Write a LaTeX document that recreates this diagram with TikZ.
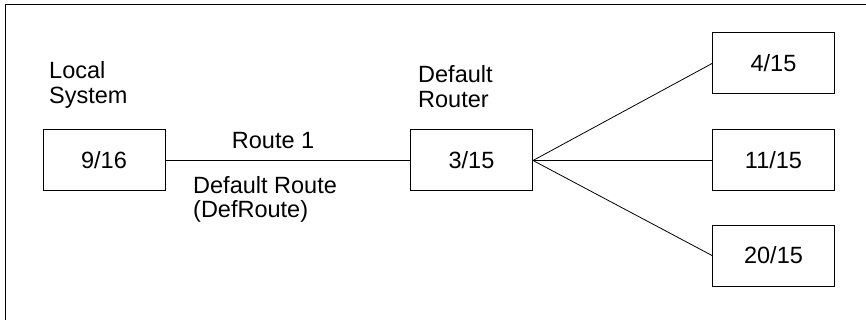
\documentclass[tikz,border=0pt]{standalone}
\usepackage{fontspec}
\setmainfont{Liberation Sans}
\usetikzlibrary{positioning}

\tikzset{
    hostbox/.style={draw, line width=1pt, minimum width=122pt, minimum height=61pt, inner sep=0pt},
    caption/.style={align=left, anchor=base west, inner sep=0pt},
    link/.style={line width=0.8pt}
}

\begin{document}
\begin{tikzpicture}[x=1pt, y=-1pt, font=\fontsize{23.5}{24.5}\selectfont]
    \useasboundingbox (0,0) rectangle (866,320);
    \draw[line width=1pt] (5,320) -- (5,5) -- (866,5);

    % hosts
    \node[hostbox] (local) at (104,160.5) {9/16};
    \node[hostbox] (router) at (471.5,160.5) {3/15};
    \node[hostbox] (h4) at (773.5,63.5) {4/15};
    \node[hostbox] (h11) at (773.5,160.5) {11/15};
    \node[hostbox] (h20) at (773.5,255.5) {20/15};

    \node[caption] (localcap) at (49,103.5) {Local\\System};
    \node[caption] (routercap) at (418,107.5) {Default\\Router};

    % routes
    \draw[link] (local) -- node[pos=0.44, above=8pt] (r1) {Route 1} (router);
    \node[caption] (defroute) at (193,217.5) {Default Route\\(DefRoute)};
    \draw[link] (router.east) -- (h4.west);
    \draw[link] (router.east) -- (h11.west);
    \draw[link] (router.east) -- (h20.west);
\end{tikzpicture}
\end{document}
